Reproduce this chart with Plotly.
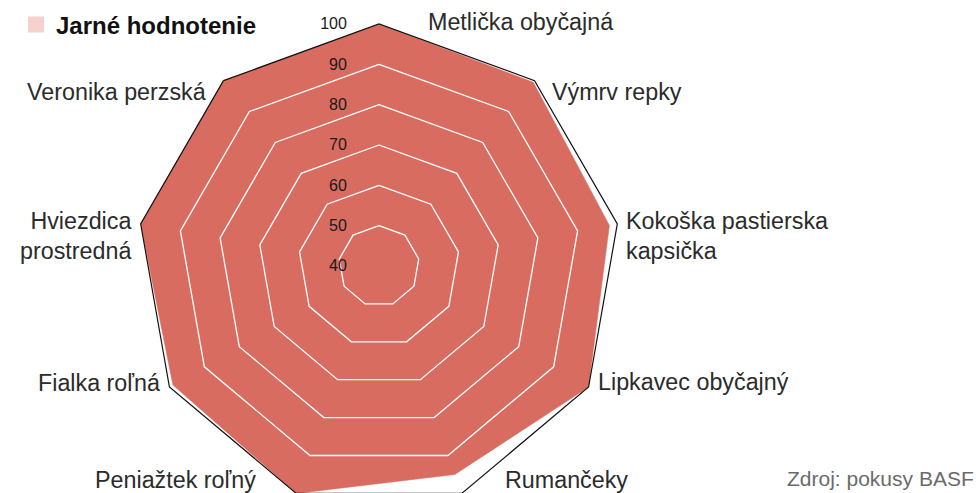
import plotly.graph_objects as go

# ---------------- data ----------------
categories = [
    "Metlička obyčajná",
    "Výmrv repky",
    "Kokoška pastierska kapsička",
    "Lipkavec obyčajný",
    "Rumančeky",
    "Peniažtek roľný",
    "Fialka roľná",
    "Hviezdica prostredná",
    "Veronika perzská",
]
spring_scores = [100, 99.5, 98, 100, 95, 100, 99, 100, 100]
series_name = "Jarné hodnotenie"
radial_ticks = [40, 50, 60, 70, 80, 90, 100]
source_text = "Zdroj: pokusy BASF"

# ---------------- style / layout ----------------
W, H = 976, 508
CX, CY, R = 379, 266, 242
FONT = "Liberation Sans, Arial, Helvetica, sans-serif"
FILL = "#D96C60"
LEGEND_SWATCH = "#F5D2CC"

# category label placement (pixel anchor, side)
label_breaks = {
    "Kokoška pastierska kapsička": "Kokoška pastierska<br>kapsička",
    "Hviezdica prostredná": "Hviezdica<br>prostredná",
}
label_pos = [
    (426, 22, "left"),
    (550, 92, "left"),
    (624, 236, "left"),
    (596, 382, "left"),
    (503, 480, "left"),
    (258, 480, "right"),
    (162, 383, "right"),
    (133, 236, "right"),
    (208, 92, "right"),
]

theta_closed = categories + [categories[0]]

fig = go.Figure()

# main filled area
fig.add_trace(go.Scatterpolar(
    r=spring_scores + [spring_scores[0]],
    theta=theta_closed,
    mode="lines",
    fill="toself",
    fillcolor=FILL,
    line=dict(color=FILL, width=0.5),
    showlegend=False,
    hoverinfo="skip",
))

# white grid polygons drawn above the fill
for v in radial_ticks[1:-1]:
    fig.add_trace(go.Scatterpolar(
        r=[v] * len(theta_closed),
        theta=theta_closed,
        mode="lines",
        line=dict(color="white", width=1.3),
        showlegend=False,
        hoverinfo="skip",
    ))

# legend entry
fig.add_trace(go.Scatterpolar(
    r=[None],
    theta=[categories[0]],
    mode="markers",
    marker=dict(symbol="square", size=16, color=LEGEND_SWATCH),
    name=series_name,
    showlegend=True,
))

annotations = []
for cat, (px, py, side) in zip(categories, label_pos):
    annotations.append(dict(
        text=label_breaks.get(cat, cat),
        x=px / W, y=1 - py / H, xref="paper", yref="paper",
        xanchor=side, yanchor="middle", align=side,
        showarrow=False,
        font=dict(family=FONT, size=23.3, color="#2b2b2b"),
    ))
annotations.append(dict(
    text=source_text,
    x=976 / W, y=1 - 478 / H, xref="paper", yref="paper",
    xanchor="right", yanchor="middle", showarrow=False,
    font=dict(family=FONT, size=21, color="#6b6b6b"),
))

fig.update_layout(
    width=W, height=H,
    margin=dict(l=0, r=0, t=0, b=0),
    paper_bgcolor="white",
    font=dict(family=FONT),
    polar=dict(
        domain=dict(x=[(CX - R) / W, (CX + R) / W], y=[(H - CY - R) / H, (H - CY + R) / H]),
        bgcolor="white",
        gridshape="linear",
        radialaxis=dict(
            range=[radial_ticks[0], radial_ticks[-1]],
            tickvals=radial_ticks,
            angle=90,
            tickangle=90,
            side="counterclockwise",
            showline=False,
            showgrid=False,
            ticks="outside",
            ticklen=26,
            tickcolor="rgba(0,0,0,0)",
            tickfont=dict(family=FONT, size=16, color="#1a1a1a"),
            layer="above traces",
        ),
        angularaxis=dict(
            direction="clockwise",
            rotation=90,
            showticklabels=False,
            ticks="",
            showgrid=False,
            showline=True,
            linecolor="#111111",
            linewidth=1.2,
            layer="above traces",
        ),
    ),
    showlegend=True,
    legend=dict(
        x=16 / W, y=1 - 25 / H, xanchor="left", yanchor="middle",
        font=dict(family=FONT, size=24, color="#111111", weight="bold"),
        bgcolor="rgba(0,0,0,0)",
    ),
    annotations=annotations,
)

fig.write_html(
    "out.html",
    config={"displayModeBar": False},
    post_script="document.documentElement.style.overflow='hidden';document.body.style.overflow='hidden';document.body.style.margin='0';",
)
